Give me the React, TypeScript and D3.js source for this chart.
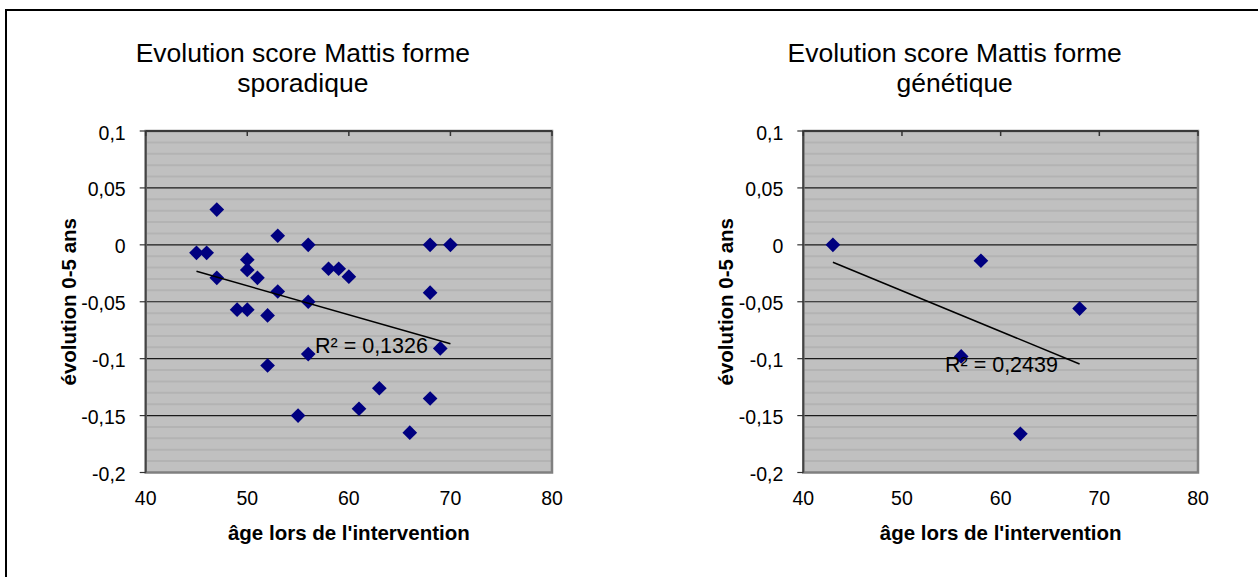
import React from "react";
import * as d3 from "d3";

// sporadic form
const sporadicAge = [45, 46, 47, 47, 49, 50, 50, 50, 51, 52, 52, 53, 53, 55, 56, 56, 56, 58, 59, 60, 61, 63, 66, 68, 68, 68, 69, 70];
const sporadicScore = [-0.007, -0.007, 0.031, -0.029, -0.057, -0.013, -0.022, -0.057, -0.029, -0.062, -0.106, 0.008, -0.041, -0.15, 0, -0.05, -0.096, -0.021, -0.021, -0.028, -0.144, -0.126, -0.165, 0, -0.042, -0.135, -0.091, 0];

// genetic form
const geneticAge = [43, 56, 58, 62, 68];
const geneticScore = [0, -0.098, -0.014, -0.166, -0.056];

const xTicks = [40, 50, 60, 70, 80];
const yTicks = [0.1, 0.05, 0, -0.05, -0.1, -0.15, -0.2];
const xTitle = "âge lors de l'intervention";
const yTitle = "évolution 0-5 ans";

const FONT = "'Liberation Sans', Arial, sans-serif";
const fmt = (v: number) => String(Math.round(v * 100) / 100).replace(".", ",");

interface PanelProps {
  ages: number[];
  scores: number[];
  title: string[];
  r2: string;
  r2Pos: [number, number];
  left: number;
  right: number;
}

const top = 131;
const bottom = 472.5;

function Panel({ ages, scores, title, r2, r2Pos, left, right }: PanelProps) {
  const x = d3.scaleLinear().domain([40, 80]).range([left, right]);
  const y = d3.scaleLinear().domain([-0.2, 0.1]).range([bottom, top]);
  const cx = (left + right) / 2;
  const cy = (top + bottom) / 2;

  // linear least squares trendline
  const mx = d3.mean(ages)!;
  const my = d3.mean(scores)!;
  const sxy = d3.sum(ages, (a, i) => (a - mx) * (scores[i] - my));
  const sxx = d3.sum(ages, a => (a - mx) ** 2);
  const slope = sxy / sxx;
  const [a0, a1] = d3.extent(ages) as [number, number];
  const trend = d3.line<number>()
    .x(a => x(a))
    .y(a => y(my + slope * (a - mx)))([a0, a1]);

  const minor = d3.range(-19, 10).map(i => i / 100).filter(v => Math.abs(Math.round(v * 100)) % 5 !== 0);
  const diamond = d3.symbol(d3.symbolSquare, 108)()!;

  return (
    <g fontFamily={FONT}>
      {title.map((t, i) => (
        <text key={t} x={cx - 46} y={62 + i * 30} textAnchor="middle" fontSize={26.5}>{t}</text>
      ))}
      <rect x={left} y={top} width={right - left} height={bottom - top} fill="#c0c0c0" />
      {minor.map(v => (
        <line key={v} x1={left} x2={right} y1={y(v)} y2={y(v)} stroke="#b3b3b3" strokeWidth={2} />
      ))}
      {yTicks.map(v => (
        <line key={v} x1={left} x2={right} y1={y(v)} y2={y(v)} stroke="#1a1a1a" strokeWidth={1.2} />
      ))}
      <rect x={left} y={top} width={right - left} height={bottom - top} fill="none" stroke="#808080" strokeWidth={2.5} />
      <line x1={left} x2={right} y1={top} y2={top} stroke="#222" strokeWidth={1.5} />
      <line x1={left} x2={left} y1={top} y2={bottom} stroke="#444" strokeWidth={1.8} />
      {xTicks.map(v => (
        <g key={v}>
          <line x1={x(v)} x2={x(v)} y1={top} y2={top + 5} stroke="#333" strokeWidth={1.5} />
          <text x={x(v)} y={505} textAnchor="middle" fontSize={19.5}>{v}</text>
        </g>
      ))}
      {yTicks.map(v => (
        <g key={v}>
          <line x1={left - 6} x2={left} y1={y(v)} y2={y(v)} stroke="#333" strokeWidth={1.2} />
          <text x={left - 20} y={y(v) + 8.5} textAnchor="end" fontSize={19.5}>{fmt(v)}</text>
        </g>
      ))}
      {ages.map((a, i) => (
        <path key={i} d={diamond} transform={`translate(${x(a)},${y(scores[i])}) rotate(45)`} fill="#000080" />
      ))}
      <path d={trend ?? ""} stroke="#000" strokeWidth={1.5} fill="none" />
      <text x={r2Pos[0]} y={r2Pos[1]} fontSize={21.5}>{r2}</text>
      <text x={cx} y={540} textAnchor="middle" fontSize={20.5} fontWeight="bold">{xTitle}</text>
      <text transform={`translate(${left - 70},${cy}) rotate(-90)`} textAnchor="middle" fontSize={20.5} fontWeight="bold">{yTitle}</text>
    </g>
  );
}

export default function App() {
  return (
    <svg width={1258} height={577} style={{ position: "absolute", left: 0, top: 0, background: "#fff" }}>
      <rect x={6} y={10} width={1300} height={700} fill="#fff" stroke="#000" strokeWidth={2} />
      <Panel
        ages={sporadicAge}
        scores={sporadicScore}
        title={["Evolution score Mattis forme", "sporadique"]}
        r2="R² = 0,1326"
        r2Pos={[315, 353]}
        left={145.7}
        right={552}
      />
      <Panel
        ages={geneticAge}
        scores={geneticScore}
        title={["Evolution score Mattis forme", "génétique"]}
        r2="R² = 0,2439"
        r2Pos={[945, 372]}
        left={803.3}
        right={1198}
      />
    </svg>
  );
}
